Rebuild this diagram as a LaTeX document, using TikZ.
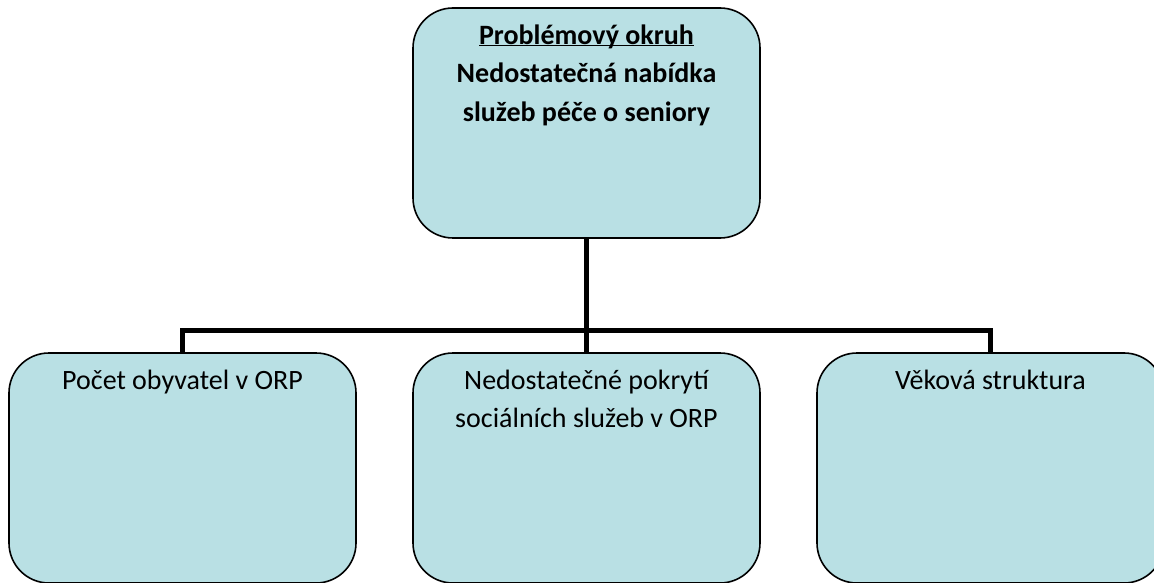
\documentclass[tikz,border=0pt]{standalone}
\usepackage{fontspec}
\setmainfont{Carlito}
\usetikzlibrary{positioning}
\definecolor{boxfill}{RGB}{185,224,228}

\begin{document}
\begin{tikzpicture}[x=1pt,y=1pt,
box/.style={draw=black,line width=1.6pt,fill=boxfill,rounded corners=40pt,minimum width=347pt,minimum height=230pt,inner sep=0pt},
boxtext/.style={align=center,inner sep=0pt,anchor=base,font=\fontsize{28}{38}\selectfont},
headtext/.style={boxtext,font=\fontsize{28}{38.5}\selectfont\bfseries},
link/.style={line width=5pt}]
\useasboundingbox (0,0) rectangle (1154,582);

\node[box] (top) at (586.5,459) {};
\node[box] (left) at (182.5,114) {};
\node[box] (mid) at (586.5,114) {};
\node[box] (right) at (990.5,114) {};

% text baselines: last line of each label
\node[headtext] (toplabel) at ([yshift=-114pt]top.north) {\underline{\smash{Problémový okruh}}\\Nedostatečná nabídka\\služeb péče o seniory};
\node[boxtext] (leftlabel) at ([yshift=-37pt]left.north) {Počet obyvatel v ORP};
\node[boxtext] (midlabel) at ([yshift=-75pt]mid.north) {Nedostatečné pokrytí\\sociálních služeb v ORP};
\node[boxtext] (rightlabel) at ([yshift=-37pt]right.north) {Věková struktura};

\coordinate (bus) at (586.5,252);
\draw[link] (top.south) -- (bus);
\draw[link] (left.north) |- (bus) -| (right.north);
\draw[link] (bus) -- (mid.north);
\end{tikzpicture}
\end{document}
